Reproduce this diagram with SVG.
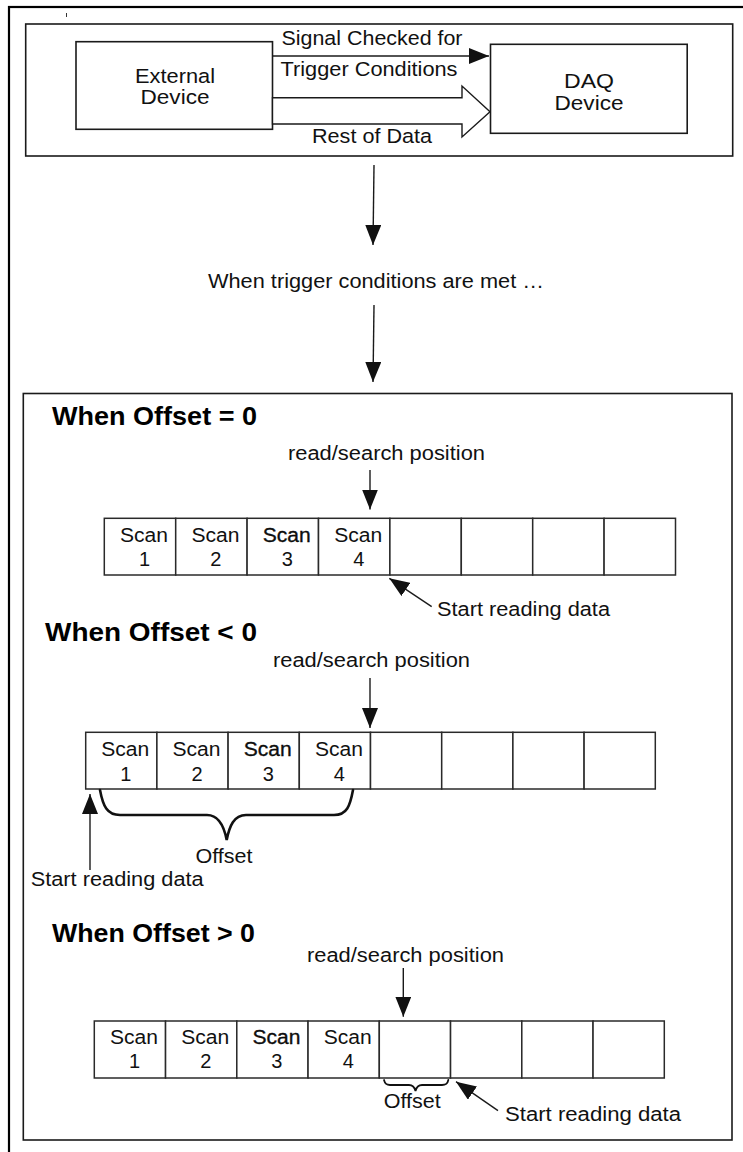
<svg xmlns="http://www.w3.org/2000/svg" width="743" height="1152" viewBox="0 0 743 1152">
<style>
.bx{fill:#fff;stroke:#1a1a1a;stroke-width:1.6}
.cell{fill:#fff;stroke:#2a2a2a;stroke-width:1.5}
.t{font-family:"Liberation Sans",Arial,sans-serif;font-size:20px;fill:#111}
.tt{font-family:"Liberation Sans",Arial,sans-serif;font-size:20.5px;fill:#111}
.h{font-family:"Liberation Sans",Arial,sans-serif;font-size:25px;font-weight:bold;fill:#000}
.m{text-anchor:middle}
.ln{stroke:#1a1a1a;stroke-width:1.4;fill:none}
.br{stroke:#111;fill:none;stroke-linecap:round}
.b3{stroke:#000;stroke-width:0.3}
</style>
<defs>
<marker id="ah" viewBox="0 0 20 16" refX="20" refY="8" markerWidth="20" markerHeight="16" markerUnits="userSpaceOnUse" orient="auto">
<path d="M0,0 L20,8 L0,16 Z" fill="#111"/>
</marker>
</defs>
<rect width="743" height="1152" fill="#fff"/>
<rect x="9" y="7" width="760" height="1160" fill="none" stroke="#000" stroke-width="2.2"/>
<line x1="66.5" y1="13" x2="66.5" y2="17" stroke="#333" stroke-width="1"/>

<g id="top-panel">
<rect class="bx" x="25.7" y="24" width="707" height="132"/>
</g>
<g id="external-device">
<rect class="bx" x="76" y="41.7" width="196.5" height="87.6"/>
<text class="tt m" x="175" y="83" textLength="80" lengthAdjust="spacingAndGlyphs">External</text>
<text class="tt m" x="175" y="104" textLength="69" lengthAdjust="spacingAndGlyphs">Device</text>
</g>
<g id="daq-device">
<rect class="bx" x="490.5" y="44.3" width="196.7" height="89"/>
<text class="tt m" x="589" y="88" textLength="50" lengthAdjust="spacingAndGlyphs">DAQ</text>
<text class="tt m" x="589" y="110" textLength="69" lengthAdjust="spacingAndGlyphs">Device</text>
</g>

<g id="labels-top">
<text class="tt m" x="372" y="45" textLength="181" lengthAdjust="spacingAndGlyphs">Signal Checked for</text>
<text class="tt m" x="369" y="76" textLength="177" lengthAdjust="spacingAndGlyphs">Trigger Conditions</text>
<text class="tt m" x="372" y="143" textLength="120" lengthAdjust="spacingAndGlyphs">Rest of Data</text>
</g>

<g id="trigger-met">
<text class="t m" x="376" y="288" textLength="336" lengthAdjust="spacingAndGlyphs">When trigger conditions are met …</text>
</g>

<g id="bottom-panel">
<rect class="bx" x="23.3" y="393.5" width="708.7" height="746.5"/>
</g>

<g id="offset-zero">
<text class="h" x="52" y="425" textLength="205" lengthAdjust="spacingAndGlyphs">When Offset = 0</text>
<text class="t" x="288" y="460" textLength="197" lengthAdjust="spacingAndGlyphs">read/search position</text>
<rect class="cell" x="104.3" y="518.3" width="71.4" height="56.7"/>
<rect class="cell" x="175.7" y="518.3" width="71.4" height="56.7"/>
<rect class="cell" x="247.1" y="518.3" width="71.4" height="56.7"/>
<rect class="cell" x="318.5" y="518.3" width="71.4" height="56.7"/>
<rect class="cell" x="389.9" y="518.3" width="71.4" height="56.7"/>
<rect class="cell" x="461.3" y="518.3" width="71.4" height="56.7"/>
<rect class="cell" x="532.7" y="518.3" width="71.4" height="56.7"/>
<rect class="cell" x="604.1" y="518.3" width="71.4" height="56.7"/>
<text class="t m" x="144" y="542.3" textLength="48" lengthAdjust="spacingAndGlyphs">Scan</text>
<text class="t m" x="144.5" y="565.7">1</text>
<text class="t m" x="215.4" y="542.3" textLength="48" lengthAdjust="spacingAndGlyphs">Scan</text>
<text class="t m" x="215.9" y="565.7">2</text>
<text class="t m b3" x="286.8" y="542.3" textLength="48" lengthAdjust="spacingAndGlyphs">Scan</text>
<text class="t m" x="287.3" y="565.7">3</text>
<text class="t m" x="358.2" y="542.3" textLength="48" lengthAdjust="spacingAndGlyphs">Scan</text>
<text class="t m" x="358.7" y="565.7">4</text>
<text class="t" x="437" y="616" textLength="173" lengthAdjust="spacingAndGlyphs">Start reading data</text>
</g>

<g id="offset-negative">
<text class="h" x="45" y="641" textLength="212" lengthAdjust="spacingAndGlyphs">When Offset &lt; 0</text>
<text class="t" x="273" y="667" textLength="197" lengthAdjust="spacingAndGlyphs">read/search position</text>
<rect class="cell" x="85.7" y="732.3" width="71.2" height="56.7"/>
<rect class="cell" x="156.9" y="732.3" width="71.2" height="56.7"/>
<rect class="cell" x="228.1" y="732.3" width="71.2" height="56.7"/>
<rect class="cell" x="299.3" y="732.3" width="71.2" height="56.7"/>
<rect class="cell" x="370.5" y="732.3" width="71.2" height="56.7"/>
<rect class="cell" x="441.7" y="732.3" width="71.2" height="56.7"/>
<rect class="cell" x="512.9" y="732.3" width="71.2" height="56.7"/>
<rect class="cell" x="584.1" y="732.3" width="71.2" height="56.7"/>
<text class="t m" x="125.3" y="756" textLength="48" lengthAdjust="spacingAndGlyphs">Scan</text>
<text class="t m" x="125.8" y="780.7">1</text>
<text class="t m" x="196.5" y="756" textLength="48" lengthAdjust="spacingAndGlyphs">Scan</text>
<text class="t m" x="197" y="780.7">2</text>
<text class="t m b3" x="267.7" y="756" textLength="48" lengthAdjust="spacingAndGlyphs">Scan</text>
<text class="t m" x="268.2" y="780.7">3</text>
<text class="t m" x="338.9" y="756" textLength="48" lengthAdjust="spacingAndGlyphs">Scan</text>
<text class="t m" x="339.4" y="780.7">4</text>
<path class="br" stroke-width="2.6" d="M100,790 C103,806 107,815 120,815 L207,815 C219,815 224,826 226.7,840 C229.4,826 234,815 246,815 L334,815 C347,815 350,806 353,790"/>
<text class="t m" x="224" y="863" textLength="57" lengthAdjust="spacingAndGlyphs">Offset</text>
<text class="t" x="30.7" y="886" textLength="173" lengthAdjust="spacingAndGlyphs">Start reading data</text>
</g>

<g id="offset-positive">
<text class="h" x="52" y="942" textLength="203" lengthAdjust="spacingAndGlyphs">When Offset &gt; 0</text>
<text class="t" x="307" y="962" textLength="197" lengthAdjust="spacingAndGlyphs">read/search position</text>
<rect class="cell" x="94.3" y="1021" width="71.25" height="57"/>
<rect class="cell" x="165.55" y="1021" width="71.25" height="57"/>
<rect class="cell" x="236.8" y="1021" width="71.25" height="57"/>
<rect class="cell" x="308.05" y="1021" width="71.25" height="57"/>
<rect class="cell" x="379.3" y="1021" width="71.25" height="57"/>
<rect class="cell" x="450.55" y="1021" width="71.25" height="57"/>
<rect class="cell" x="521.8" y="1021" width="71.25" height="57"/>
<rect class="cell" x="593.05" y="1021" width="71.25" height="57"/>
<text class="t m" x="134" y="1044" textLength="48" lengthAdjust="spacingAndGlyphs">Scan</text>
<text class="t m" x="134.5" y="1068.3">1</text>
<text class="t m" x="205.2" y="1044" textLength="48" lengthAdjust="spacingAndGlyphs">Scan</text>
<text class="t m" x="205.7" y="1068.3">2</text>
<text class="t m b3" x="276.4" y="1044" textLength="48" lengthAdjust="spacingAndGlyphs">Scan</text>
<text class="t m" x="276.9" y="1068.3">3</text>
<text class="t m" x="347.7" y="1044" textLength="48" lengthAdjust="spacingAndGlyphs">Scan</text>
<text class="t m" x="348.2" y="1068.3">4</text>
<path class="br" stroke-width="1.8" d="M384,1080 C385,1084 386.5,1085 390,1085 L409,1085 C413,1085 414.5,1087 415.5,1091 C416.5,1087 418,1085 422,1085 L442,1085 C446,1085 447.5,1084 448.3,1080"/>
<text class="t m" x="412.3" y="1108.3" textLength="57" lengthAdjust="spacingAndGlyphs">Offset</text>
<text class="t" x="505" y="1120.7" textLength="176" lengthAdjust="spacingAndGlyphs">Start reading data</text>
</g>

<g id="connectors">
<line class="ln" x1="272.5" y1="56" x2="489" y2="56" marker-end="url(#ah)"/>
<polygon points="272.5,97.7 462,97.7 462,86 490,111.7 462,137 462,124 272.5,124" fill="#fff" stroke="#1a1a1a" stroke-width="1.4"/>
<line class="ln" x1="374" y1="165" x2="373" y2="245" marker-end="url(#ah)"/>
<line class="ln" x1="374" y1="305" x2="373" y2="382" marker-end="url(#ah)"/>
<line class="ln" x1="370" y1="470" x2="370" y2="509.5" marker-end="url(#ah)"/>
<line class="ln" x1="431.7" y1="606.7" x2="389.3" y2="578.3" marker-end="url(#ah)"/>
<line class="ln" x1="370" y1="678" x2="370" y2="728" marker-end="url(#ah)"/>
<line class="ln" x1="90" y1="870" x2="90" y2="794" marker-end="url(#ah)"/>
<line class="ln" x1="403.3" y1="968" x2="403.3" y2="1016.7" marker-end="url(#ah)"/>
<line class="ln" x1="498" y1="1110.7" x2="456" y2="1081.7" marker-end="url(#ah)"/>
</g>
</svg>
